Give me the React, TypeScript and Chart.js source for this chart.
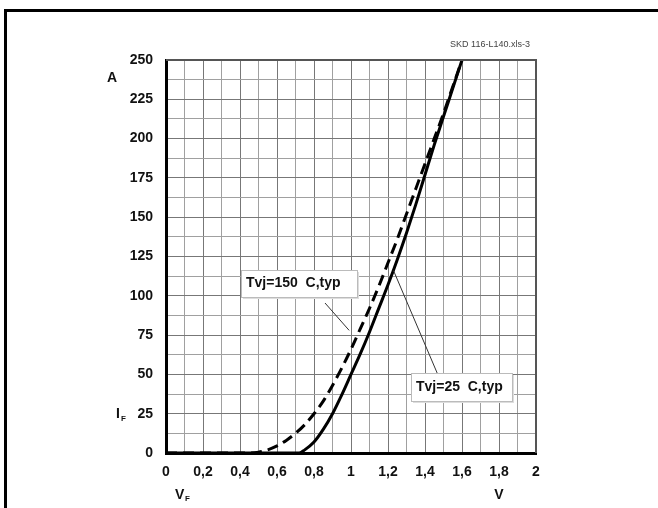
import React, { useEffect, useRef } from "react";
import { Chart, registerables } from "chart.js";

Chart.register(...registerables);

// 25 °C typical forward characteristic (solid)
const vf25 = [0, 0.5, 0.72, 0.75, 0.8, 0.85, 0.9, 0.95, 1.0, 1.05, 1.1, 1.15, 1.2, 1.25, 1.3, 1.35, 1.4, 1.45, 1.5, 1.55, 1.6];
const if25 = [0, 0, 0, 2, 7, 15, 25, 37, 50, 63, 77, 92, 107, 123, 140, 158, 177, 196, 214, 232, 250];

// 150 °C typical forward characteristic (dashed)
const vf150 = [0, 0.45, 0.5, 0.55, 0.6, 0.65, 0.7, 0.75, 0.8, 0.85, 0.9, 0.95, 1.0, 1.05, 1.1, 1.15, 1.2, 1.25, 1.3, 1.35, 1.4, 1.45, 1.5, 1.55, 1.6];
const if150 = [0, 0, 0.5, 2, 4.5, 8, 12.5, 18, 25, 33, 43, 54, 66, 79, 92, 106, 121, 136, 152, 168, 184, 200, 216, 233, 250];

const xTickLabels = ["0", "0,2", "0,4", "0,6", "0,8", "1", "1,2", "1,4", "1,6", "1,8", "2"];
const yTickLabels = ["0", "25", "50", "75", "100", "125", "150", "175", "200", "225", "250"];

const label150 = "Tvj=150  C,typ";
const label25 = "Tvj=25  C,typ";
const fileTag = "SKD 116-L140.xls-3";

const FONT = "'Liberation Sans', Arial, sans-serif";

export default function App() {
  const ref = useRef<HTMLCanvasElement>(null);

  useEffect(() => {
    document.body.style.margin = "0";
    const canvas = ref.current!;
    const overlay = {
      id: "overlay",
      afterDraw(chart: any) {
        const c = chart.ctx as CanvasRenderingContext2D;
        const xs = chart.scales.x;
        const ys = chart.scales.y;
        const { left, right, top, bottom } = chart.chartArea;
        c.save();
        // plot frame top/right
        c.strokeStyle = "#555";
        c.lineWidth = 2;
        c.beginPath();
        c.moveTo(left, top);
        c.lineTo(right, top);
        c.lineTo(right, bottom);
        c.stroke();
        // outer page border
        c.fillStyle = "#000";
        c.fillRect(4, 9, 654, 3);
        c.fillRect(4, 9, 3, 499);

        // axis texts
        c.fillStyle = "#111";
        c.font = `bold 14px ${FONT}`;
        c.textBaseline = "middle";
        c.textAlign = "left";
        c.fillText("A", 107, 78);
        c.fillText("I", 116, 414);
        c.fillText("V", 175, 495);
        c.textAlign = "center";
        c.fillText("V", 499, 495);
        c.font = `bold 8px ${FONT}`;
        c.textAlign = "left";
        c.fillText("F", 121, 419);
        c.fillText("F", 185, 499);

        c.font = `9px ${FONT}`;
        c.fillStyle = "#444";
        c.textAlign = "center";
        c.fillText(fileTag, 490, 45);

        // leader lines
        c.strokeStyle = "#333";
        c.lineWidth = 1;
        c.beginPath();
        c.moveTo(325, 303);
        c.lineTo(xs.getPixelForValue(0.99), ys.getPixelForValue(78));
        c.moveTo(xs.getPixelForValue(1.23), ys.getPixelForValue(116));
        c.lineTo(438, 375);
        c.stroke();

        // annotation boxes
        const box = (x: number, y: number, w: number, h: number, t: string) => {
          c.fillStyle = "#ddd";
          c.fillRect(x + 2, y + 2, w, h);
          c.fillStyle = "#fff";
          c.fillRect(x, y, w, h);
          c.strokeStyle = "#bbb";
          c.lineWidth = 1;
          c.strokeRect(x + 0.5, y + 0.5, w, h);
          c.fillStyle = "#111";
          c.font = `bold 14px ${FONT}`;
          c.textAlign = "left";
          c.textBaseline = "middle";
          c.fillText(t, x + 5, y + h / 2);
        };
        box(241, 270, 116, 27, label150);
        box(411, 373, 101, 28, label25);
        c.restore();
      },
    };

    const isMult = (v: number, s: number) => Math.abs(v / s - Math.round(v / s)) < 1e-6;

    const chart = new Chart(canvas, {
      type: "line",
      data: {
        datasets: [
          {
            label: label25,
            data: vf25.map((x, i) => ({ x, y: if25[i] })),
            borderColor: "#000",
            borderWidth: 3,
            pointRadius: 0,
            cubicInterpolationMode: "monotone",
            fill: false,
          },
          {
            label: label150,
            data: vf150.map((x, i) => ({ x, y: if150[i] })),
            borderColor: "#000",
            borderWidth: 3,
            borderDash: [11, 6],
            pointRadius: 0,
            cubicInterpolationMode: "monotone",
            fill: false,
          },
        ],
      },
      options: {
        responsive: false,
        animation: false,
        layout: { padding: { left: 0, top: 60, right: 122, bottom: 25 } },
        plugins: { legend: { display: false }, tooltip: { enabled: false } },
        scales: {
          x: {
            type: "linear",
            min: 0,
            max: 2,
            afterFit: (s: any) => {
              s.height = 30;
            },
            ticks: {
              stepSize: 0.1,
              autoSkip: false,
              maxRotation: 0,
              padding: 11,
              color: "#111",
              font: { family: FONT, size: 14, weight: "bold" },
              callback: (v: any) => {
                const n = Math.round(Number(v) * 10);
                return n % 2 === 0 ? xTickLabels[n / 2] : "";
              },
            },
            grid: {
              drawTicks: false,
              color: (ctx: any) => (isMult(ctx.tick.value, 0.2) ? "#777" : "#a0a0a0"),
              lineWidth: 1,
            },
            border: { color: "#000", width: 3 },
          },
          y: {
            type: "linear",
            min: 0,
            max: 250,
            afterFit: (s: any) => {
              s.width = 166;
            },
            ticks: {
              stepSize: 12.5,
              autoSkip: false,
              padding: 13,
              color: "#111",
              font: { family: FONT, size: 14, weight: "bold" },
              callback: (v: any) => {
                const n = Number(v);
                return isMult(n, 25) ? yTickLabels[Math.round(n / 25)] : "";
              },
            },
            grid: {
              drawTicks: false,
              color: (ctx: any) => (isMult(ctx.tick.value, 25) ? "#777" : "#a0a0a0"),
              lineWidth: 1,
            },
            border: { color: "#000", width: 3 },
          },
        },
      },
      plugins: [overlay],
    } as any);
    return () => chart.destroy();
  }, []);

  return <canvas ref={ref} width={658} height={508} style={{ display: "block" }} />;
}
